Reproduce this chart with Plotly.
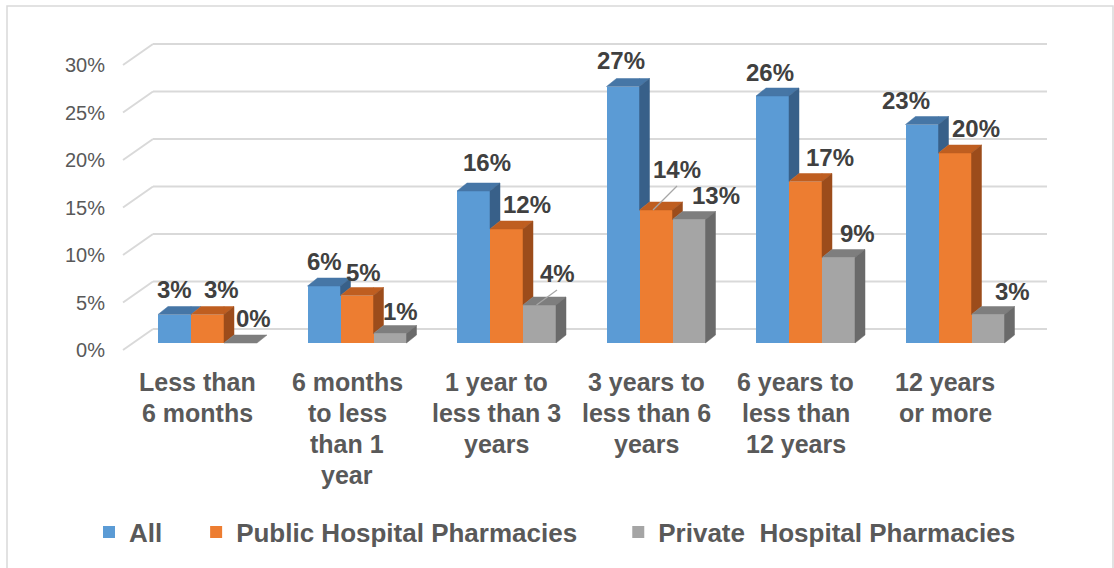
import plotly.graph_objects as go

# ---- data -------------------------------------------------------------
categories = [
    "Less than<br>6 months",
    "6 months<br>to less<br>than 1<br>year",
    "1 year to<br>less than 3<br>years",
    "3 years to<br>less than 6<br>years",
    "6 years to<br>less than<br>12 years",
    "12 years<br>or more",
]
series_names = ["All", "Public Hospital Pharmacies", "Private\u00a0 Hospital Pharmacies"]
all_vals = [3, 6, 16, 27, 26, 23]
public_vals = [3, 5, 12, 14, 17, 20]
private_vals = [0, 1, 4, 13, 9, 3]
tick_vals = [0, 5, 10, 15, 20, 25, 30]
tick_text = [f"{t}%" for t in tick_vals]

series_vals = [all_vals, public_vals, private_vals]

# ---- styling ----------------------------------------------------------
front_cols = ["#5B9BD5", "#ED7D31", "#A5A5A5"]
top_cols = ["#4676A6", "#BF5E20", "#7E7E7E"]
side_cols = ["#386089", "#9C4C1B", "#6A6A6A"]
grid_col = "#D9D9D9"
FONT = "Liberation Sans, Arial, sans-serif"

FIG_W, FIG_H = 1114, 568
L, R, T, B = 106, 1062, 20, 380          # plot area in pixels
PX_X, X0_PX = 149.5, 207.5               # pixels per category, pixel of category 0
PX_Y, Y0_PX = 9.5, 343                   # pixels per percent, pixel of 0 %
BW = 33 / PX_X                           # bar width in category units
CAT_LINE0, CAT_LINE_GAP = 382, 31        # category label first line / line pitch (px)


def dxu(px):
    return px / PX_X


def dyu(px):
    return px / PX_Y


# oblique depth of the bars and of the walls
BAR_DX, BAR_DY = dxu(10), dyu(8)
BACK_LEFT, BACK_RIGHT, BACK_UP = dxu(153 - X0_PX), dxu(1047 - X0_PX), dyu(14)
FRONT_LEFT, FRONT_DOWN = dxu(123 - X0_PX), dyu(7)

# per-label nudges (pixels) relative to the bar front-face centre / top
label_dx = [[0, 0, 13, -2, -3, -16],
            [14, 6, 20.5, 21, 24.5, 20.5],
            [13, 10.5, 17.5, 26.5, 18.5, 24]]
label_dy = [[25.5, 25, 29, 26, 24, 24.5],
            [25.5, 23.5, 25, 41, 24.5, 25],
            [25, 22.5, 32, 24.5, 24.5, 23.5]]


def clip(poly, fn):
    """Sutherland-Hodgman clip of a polygon against the half plane fn >= 0."""
    out = []
    n = len(poly)
    for k in range(n):
        p, q = poly[k], poly[(k + 1) % n]
        fp, fq = fn(p), fn(q)
        if fp >= 0:
            out.append(p)
        if (fp >= 0) != (fq >= 0):
            t = fp / (fp - fq)
            out.append((p[0] + t * (q[0] - p[0]), p[1] + t * (q[1] - p[1])))
    return out


def add_poly(xs, ys, poly):
    if len(poly) < 3:
        return
    for px_, py_ in poly:
        xs.append(px_)
        ys.append(py_)
    xs.append(poly[0][0])
    ys.append(poly[0][1])
    xs.append(None)
    ys.append(None)


fig = go.Figure()

# front faces
for s, vals in enumerate(series_vals):
    fig.add_trace(go.Bar(
        x=[i + (s - 1) * BW for i in range(len(categories))],
        y=vals,
        width=BW,
        name=series_names[s] + "\u00a0" * [4, 5, 0][s],
        marker=dict(color=front_cols[s], line=dict(width=0)),
        hoverinfo="skip",
    ))

# top and right faces, trimmed where the neighbouring bar hides them
for s, vals in enumerate(series_vals):
    tx, ty, sx, sy = [], [], [], []
    for i, v in enumerate(vals):
        xl = i + (s - 1) * BW - BW / 2
        xr = xl + BW
        vn = series_vals[s + 1][i] if s < 2 else 0
        top = [(xl, v), (xr, v), (xr + BAR_DX, v + BAR_DY), (xl + BAR_DX, v + BAR_DY)]
        if s < 2:
            add_poly(tx, ty, clip(top, lambda p, xr=xr: xr - p[0]))
            right = clip(top, lambda p, xr=xr: p[0] - xr)
            add_poly(tx, ty, clip(right, lambda p, vn=vn: p[1] - vn))
        else:
            add_poly(tx, ty, top)
        if v > vn:
            add_poly(sx, sy, [(xr, vn), (xr + BAR_DX, vn + BAR_DY),
                              (xr + BAR_DX, v + BAR_DY), (xr, v)])
    fig.add_trace(go.Scatter(x=tx, y=ty, fill="toself", mode="lines",
                             fillcolor=top_cols[s], line=dict(color=top_cols[s], width=0.5),
                             showlegend=False, hoverinfo="skip"))
    fig.add_trace(go.Scatter(x=sx, y=sy, fill="toself", mode="lines",
                             fillcolor=side_cols[s], line=dict(color=side_cols[s], width=0.5),
                             showlegend=False, hoverinfo="skip"))

# value labels (with leader lines for the ones pulled away from their bar)
annotations = []
for s, vals in enumerate(series_vals):
    for i, v in enumerate(vals):
        cx = i + (s - 1) * BW
        lx = cx + dxu(label_dx[s][i])
        ly = v + dyu(label_dy[s][i])
        annotations.append(dict(
            x=lx, y=ly, xref="x", yref="y", text=f"{v}%", showarrow=False,
            xanchor="center", yanchor="middle",
            font=dict(family=FONT, size=24, color="#404040", weight="bold"),
        ))
        if label_dy[s][i] > 30:
            fig.add_trace(go.Scatter(
                x=[lx, cx - dxu(3)], y=[ly - dyu(17), v], mode="lines",
                line=dict(color="#A6A6A6", width=1.2),
                showlegend=False, hoverinfo="skip"))

# category labels under the floor, one text line at a time
H = B - T
W = R - L
for i, c in enumerate(categories):
    for k, line in enumerate(c.split("<br>")):
        annotations.append(dict(
            x=i - dxu(10), y=(B - (CAT_LINE0 + k * CAT_LINE_GAP)) / H,
            xref="x", yref="paper", text=line,
            showarrow=False, xanchor="center", yanchor="middle",
            font=dict(family=FONT, size=25, color="#595959", weight="bold"),
        ))

# walls: back gridlines and the left-wall diagonals
shapes = []
for t in tick_vals:
    shapes.append(dict(type="line", xref="x", yref="y", layer="below",
                       x0=BACK_LEFT, x1=BACK_RIGHT, y0=t + BACK_UP, y1=t + BACK_UP,
                       line=dict(color=grid_col, width=2)))
    shapes.append(dict(type="line", xref="x", yref="y", layer="below",
                       x0=FRONT_LEFT, x1=BACK_LEFT, y0=t - FRONT_DOWN, y1=t + BACK_UP,
                       line=dict(color=grid_col, width=2)))
# chart border
shapes.append(dict(type="rect", xref="paper", yref="paper", layer="below",
                   x0=(7 - L) / W, x1=(1113 - L) / W,
                   y0=(B - 575) / H, y1=(B - 6) / H,
                   line=dict(color=grid_col, width=1.5)))

fig.update_layout(
    width=FIG_W, height=FIG_H,
    margin=dict(l=L, r=FIG_W - R, t=T, b=FIG_H - B),
    paper_bgcolor="white", plot_bgcolor="white",
    barmode="overlay", bargap=0,
    showlegend=True,
    legend=dict(orientation="h", x=(89 - L) / W, xanchor="left",
                y=(B - 532) / H, yanchor="middle",
                font=dict(family=FONT, size=26, color="#595959", weight="bold"),
                bgcolor="rgba(0,0,0,0)"),
    xaxis=dict(range=[dxu(L - X0_PX), dxu(R - X0_PX)], showgrid=False,
               zeroline=False, showline=False, showticklabels=False, fixedrange=True),
    yaxis=dict(range=[dyu(Y0_PX - B), dyu(Y0_PX - T)], showgrid=False,
               zeroline=False, showline=False,
               tickvals=[t - FRONT_DOWN for t in tick_vals], ticktext=tick_text,
               tickfont=dict(family=FONT, size=20, color="#595959"), fixedrange=True),
    annotations=annotations,
    shapes=shapes,
)

fig.write_html("out.html")
